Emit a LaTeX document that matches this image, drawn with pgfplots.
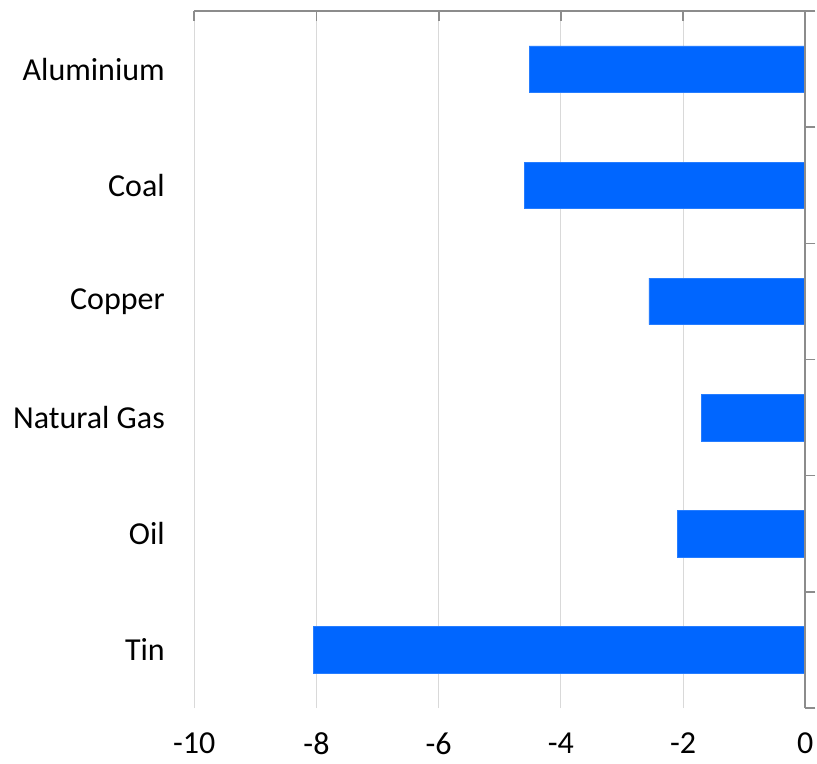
\documentclass[border=0pt]{standalone}
\usepackage{pgfplots}
\pgfplotsset{compat=1.18}
\usepackage{fontspec}
\setmainfont{Carlito}

\definecolor{barblue}{HTML}{0066FF}
\definecolor{axisgray}{HTML}{8C8C8C}
\definecolor{gridgray}{HTML}{D9D9D9}

\begin{document}
\begin{tikzpicture}
\begin{axis}[
  name=ax,
  scale only axis,
  width=611bp, height=697bp,
  xmin=-10, xmax=0,
  ymin=-0.5, ymax=5.5,
  xtick={-10,-8,-6,-4,-2,0},
  xticklabels={{-10},{-8},{-6},{-4},{-2},{0}},
  ytick={0,1,2,3,4,5},
  yticklabels={Tin,Oil,Natural Gas,Copper,Coal,Aluminium},
  minor ytick={-0.5,0.5,1.5,2.5,3.5,4.5,5.5},
  xtick pos=upper, xticklabel pos=lower,
  ytick pos=right, yticklabel pos=left,
  tick align=inside,
  major tick length=10bp,
  minor tick length=10bp,
  major y tick style={draw=none},
  minor y tick style={draw=axisgray, line width=1.6bp},
  major x tick style={draw=axisgray, line width=1.6bp},
  xmajorgrids,
  major x grid style={draw=gridgray, line width=1bp},
  axis line style={draw=none},
  ticklabel style={font=\fontsize{32bp}{36bp}\selectfont, text=black},
  xticklabel style={yshift=-21bp},
  yticklabel style={xshift=-16bp},
  xbar,
  bar width=0.4,
]
\addplot[fill=barblue, draw=barblue!85!white, line width=0.5bp] coordinates {
  (-8.05,0)
  (-2.09,1)
  (-1.70,2)
  (-2.56,3)
  (-4.60,4)
  (-4.52,5)
};
\end{axis}
\draw[axisgray, line width=1.8bp] (ax.north west) -- (ax.north east) -- (ax.south east);
\path[use as bounding box] ([xshift=-194.3bp,yshift=-56bp]ax.south west) rectangle ([xshift=11.7bp,yshift=11bp]ax.north east);
\end{tikzpicture}
\end{document}
